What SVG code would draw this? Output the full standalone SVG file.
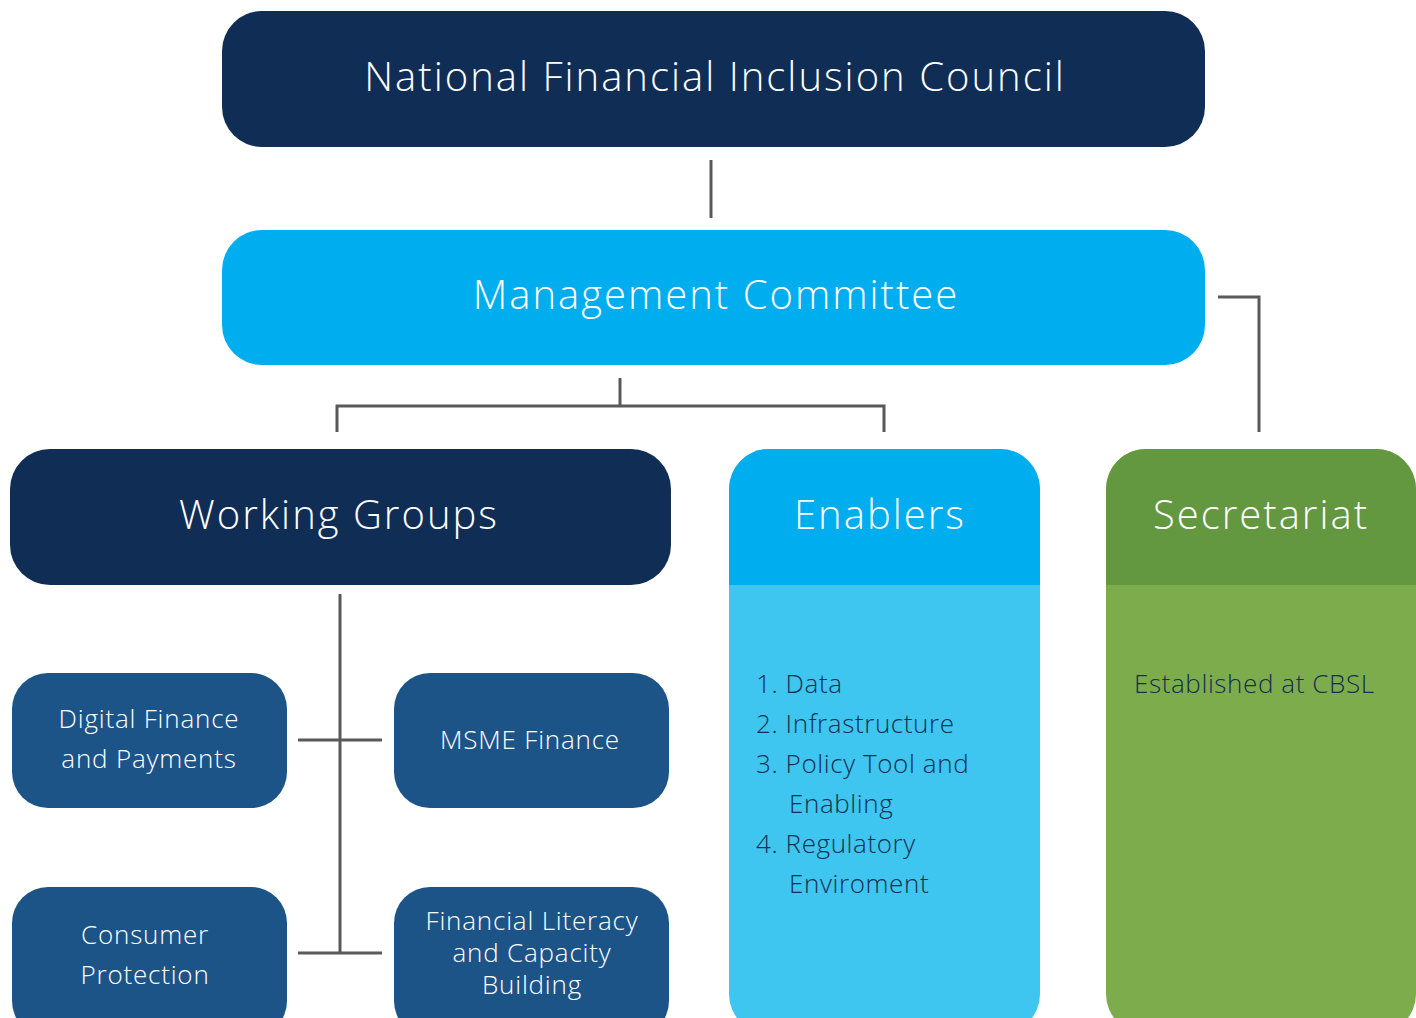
<svg xmlns="http://www.w3.org/2000/svg" width="1416" height="1018" viewBox="0 0 1416 1018">
<style>
text{font-family:"Open Sans","Liberation Sans",sans-serif;font-weight:300;text-anchor:middle}
.big{font-size:40px;fill:#fff;letter-spacing:2px}
.mid{font-size:26px;fill:#fff;letter-spacing:0.8px}
.item{font-size:26px;fill:#14304f;text-anchor:start;letter-spacing:0.6px}
.conn{stroke:#595959;fill:none;stroke-width:3}
</style>
<rect width="1416" height="1018" fill="#fff"/>
<g id="connectors">
<line class="conn" x1="711" y1="160" x2="711" y2="218" stroke-width="2"/>
<polyline class="conn" points="620,378 620,406"/>
<polyline class="conn" points="337,432 337,406 884,406 884,432"/>
<polyline class="conn" points="1218,297 1259,297 1259,432"/>
<line class="conn" x1="340" y1="594" x2="340" y2="953"/>
<line class="conn" x1="298" y1="740" x2="382" y2="740"/>
<line class="conn" x1="298" y1="953" x2="382" y2="953"/>
</g>
<g id="nfic">
<rect x="222" y="11" width="983" height="136" rx="40" fill="#102e55"/>
<text class="big" x="715" y="91">National Financial Inclusion Council</text>
</g>
<g id="mgmt">
<rect x="222" y="230" width="983" height="135" rx="40" fill="#00aeef"/>
<text class="big" x="716" y="309">Management Committee</text>
</g>
<g id="working-groups">
<rect x="10" y="449" width="661" height="136" rx="40" fill="#102e55"/>
<text class="big" x="339" y="529">Working Groups</text>
</g>
<g id="enablers">
<rect x="729" y="449" width="311" height="585" rx="40" fill="#3ec5f0"/>
<path d="M729 585 V489 a40 40 0 0 1 40 -40 H1000 a40 40 0 0 1 40 40 V585 Z" fill="#00aeef"/>
<text class="big" x="880" y="529">Enablers</text>
<text class="item" x="756" y="693">1. Data</text>
<text class="item" x="756" y="733">2. Infrastructure</text>
<text class="item" x="756" y="773">3. Policy Tool and</text>
<text class="item" x="789" y="813">Enabling</text>
<text class="item" x="756" y="853">4. Regulatory</text>
<text class="item" x="789" y="893">Enviroment</text>
</g>
<g id="secretariat">
<rect x="1106" y="449" width="310" height="585" rx="40" fill="#7dac4c"/>
<path d="M1106 585 V489 a40 40 0 0 1 40 -40 H1376 a40 40 0 0 1 40 40 V585 Z" fill="#639740"/>
<text class="big" x="1261" y="529">Secretariat</text>
<text class="item" x="1134" y="693">Established at CBSL</text>
</g>
<g id="digital">
<rect x="12" y="673" width="275" height="135" rx="36" fill="#1d5488"/>
<text class="mid" x="149" y="728">Digital Finance</text>
<text class="mid" x="149" y="768">and Payments</text>
</g>
<g id="msme">
<rect x="394" y="673" width="275" height="135" rx="36" fill="#1d5488"/>
<text class="mid" x="530" y="749">MSME Finance</text>
</g>
<g id="consumer">
<rect x="12" y="887" width="275" height="150" rx="36" fill="#1d5488"/>
<text class="mid" x="145" y="944">Consumer</text>
<text class="mid" x="145" y="984">Protection</text>
</g>
<g id="literacy">
<rect x="394" y="887" width="275" height="150" rx="36" fill="#1d5488"/>
<text class="mid" x="532" y="930">Financial Literacy</text>
<text class="mid" x="532" y="962">and Capacity</text>
<text class="mid" x="532" y="994">Building</text>
</g>
</svg>
